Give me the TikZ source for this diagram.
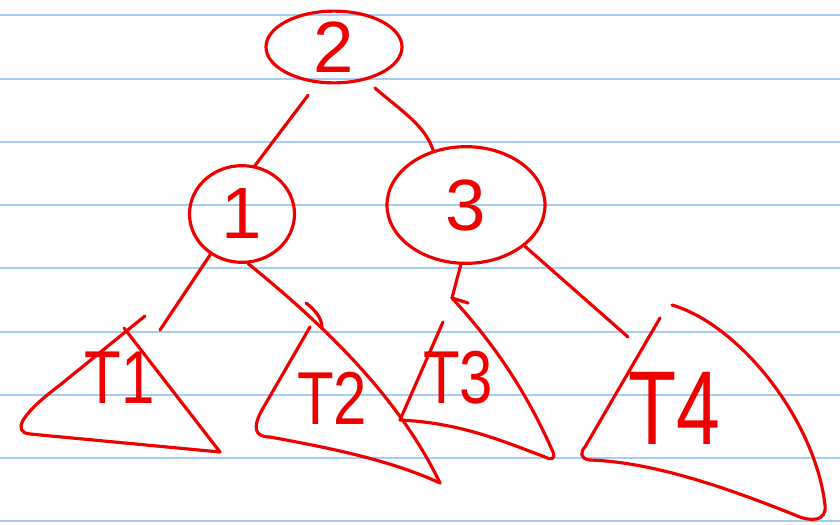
\documentclass[tikz,border=0pt]{standalone}
\usepackage{fontspec}
\setmainfont{Liberation Sans}
\usetikzlibrary{shapes.geometric}
\definecolor{ink}{RGB}{238,0,0}
\definecolor{rulecol}{RGB}{166,206,244}
\begin{document}
\begin{tikzpicture}[x=0.03cm,y=-0.03cm,
  stroke/.style={draw=ink,line width=2.7pt,line cap=round,line join=round},
  bubble/.style={ellipse,stroke,inner sep=0pt,text=ink,font=\fontsize{62}{62}\selectfont},
  lbl/.style={text=ink,font=\fontsize{64}{64}\selectfont,inner sep=0pt},
  ruleline/.style={draw=rulecol,line width=1.6pt}]
\useasboundingbox (0,0) rectangle (840,524);
\fill[white] (0,0) rectangle (840,524);
\foreach \yy in {15,79,142,205,268,332,395,458,521}
  \draw[ruleline] (0,\yy) -- (840,\yy);

% tree nodes
\node[bubble,minimum width=4.08cm,minimum height=1.98cm] (n2) at (334,47) {2};
\node[bubble,minimum width=3.15cm,minimum height=2.9cm] (n1) at (242,214) {1};
\node[bubble,minimum width=4.74cm,minimum height=3.5cm] (n3) at (466,205) {3};

% subtree labels
\node[lbl] (t1) at (120,378) {\scalebox{0.8}[1]{T1}};
\node[lbl] (t2) at (332,398) {\scalebox{0.8}[1]{T2}};
\node[lbl] (t3) at (458,378) {\scalebox{0.8}[1]{T3}};
\node[lbl] (t4) at (674,408) {\scalebox{1.05}[1.4]{T4}};

% connector free ends
\coordinate (e1) at (160,330);
\coordinate (e2) at (440,483);
\coordinate (e3) at (452,298);
\coordinate (e4) at (628,337);

% connectors
\draw[stroke,shorten <=0.45cm] (n2.245) -- (n1.75);
\draw[stroke,shorten <=0.35cm] (n2.314) .. controls (400,110) and (425,125) .. (n3.121);
\draw[stroke] (n1.232) -- (e1);
\draw[stroke] (n1.277) .. controls (330,330) and (400,400) .. (e2);
\draw[stroke] (n3.265) -- (e3);
\draw[stroke] (n3.-35) -- (e4);

% triangle T1
\draw[stroke] (145,316) -- (60,385) .. controls (20,415) and (12,432) .. (30,434)
  -- (220,452) -- (124,328);
% triangle T2
\draw[stroke] (306,303) .. controls (315,310) and (322,318) .. (322,328);
\draw[stroke] (310,327) -- (262,410) .. controls (252,428) and (255,437) .. (270,437)
  .. controls (330,448) and (390,460) .. (e2);
% triangle T3
\draw[stroke] (e3) .. controls (500,350) and (530,400) .. (553,452)
  .. controls (556,460) and (550,460) .. (545,457)
  .. controls (500,440) and (460,423) .. (400,420) -- (443,322);
\draw[stroke] (e3) -- (468,303);
% triangle T4
\draw[stroke] (672,305) .. controls (740,325) and (815,420) .. (825,505)
  .. controls (827,522) and (810,522) .. (795,515)
  .. controls (720,485) and (650,462) .. (590,460)
  .. controls (580,459) and (580,452) .. (585,447) -- (660,318);
\end{tikzpicture}
\end{document}
